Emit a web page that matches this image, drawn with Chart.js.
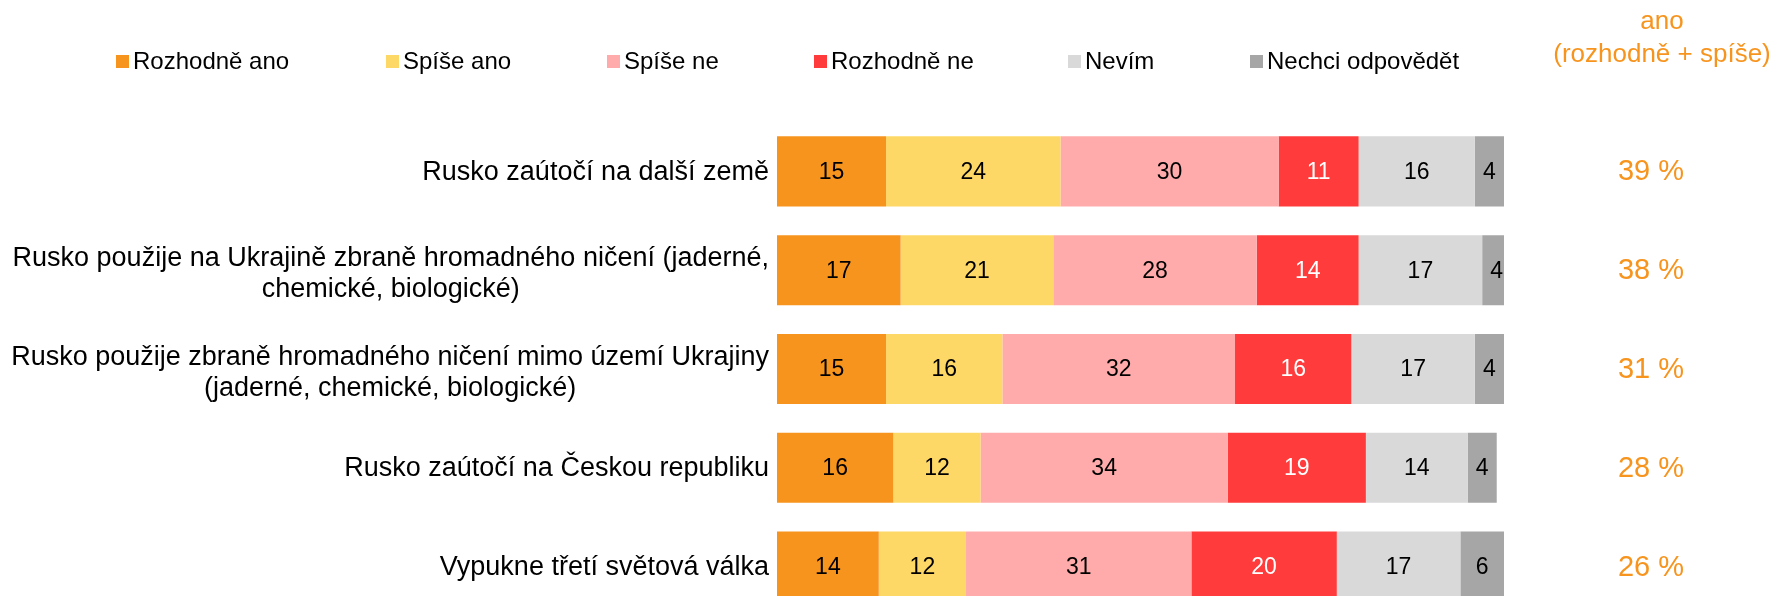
<!DOCTYPE html>
<html>
<head>
<meta charset="utf-8">
<script src="https://cdn.jsdelivr.net/npm/chart.js@4.4.1/dist/chart.umd.min.js"></script>
<style>
html, body { margin: 0; padding: 0; background: #fff; overflow: hidden; }
#wrap { width: 1777px; height: 596px; overflow: hidden; }
</style>
</head>
<body>
<div id="wrap"><canvas id="surveyChart" width="1777" height="640"></canvas></div>
<script>
const categories = [
    ['Rusko zaútočí na další země'],
    ['Rusko použije na Ukrajině zbraně hromadného ničení (jaderné,', 'chemické, biologické)'],
    ['Rusko použije zbraně hromadného ničení mimo území Ukrajiny', '(jaderné, chemické, biologické)'],
    ['Rusko zaútočí na Českou republiku'],
    ['Vypukne třetí světová válka']
];
const seriesNames = ['Rozhodně ano', 'Spíše ano', 'Spíše ne', 'Rozhodně ne', 'Nevím', 'Nechci odpovědět'];
const definitelyYes = [15, 17, 15, 16, 14];
const ratherYes = [24, 21, 16, 12, 12];
const ratherNo = [30, 28, 32, 34, 31];
const definitelyNo = [11, 14, 16, 19, 20];
const dontKnow = [16, 17, 17, 14, 17];
const noAnswer = [4, 4, 4, 4, 6];
const yesTotal = [39, 38, 31, 28, 26];
const yesHeader = ['ano', '(rozhodně + spíše)'];

const FONT = "'Liberation Sans', Arial, sans-serif";
const ORANGE = '#F7941E';
const colors = ['#F7941E', '#FED866', '#FFABAB', '#FF3B3B', '#D9D9D9', '#A6A6A6'];
const labelColors = ['#000', '#000', '#000', '#fff', '#000', '#000'];
const seriesValues = [definitelyYes, ratherYes, ratherNo, definitelyNo, dontKnow, noAnswer];

//Legend box positions (Excel style, not evenly spaced)
const legendX = [116, 386, 607, 814, 1068, 1250];

const decorPlugin = {
    id: 'surveyDecor',
    afterDatasetsDraw(chart) {
        const ctx = chart.ctx;
        const area = chart.chartArea;
        const yScale = chart.scales.y;
        ctx.save();

        //values inside segments
        ctx.font = '23px ' + FONT;
        ctx.textAlign = 'center';
        ctx.textBaseline = 'middle';
        chart.data.datasets.forEach((ds, d) => {
            chart.getDatasetMeta(d).data.forEach((bar, i) => {
                ctx.fillStyle = labelColors[d];
                ctx.fillText(String(ds.data[i]), (bar.x + bar.base) / 2, bar.y + 1);
            });
        });

        //category labels, block right-aligned, lines centered
        ctx.font = '27px ' + FONT;
        ctx.fillStyle = '#000';
        categories.forEach((lines, i) => {
            const y = yScale.getPixelForValue(i);
            const blockW = Math.max(...lines.map(l => ctx.measureText(l).width));
            const cx = area.left - 8 - blockW / 2;
            const shift = lines.length > 1 ? 4 : 1;
            lines.forEach((line, j) => {
                ctx.fillText(line, cx, y + (j - (lines.length - 1) / 2) * 31 + shift);
            });
        });

        //yes totals on the right
        ctx.font = '29px ' + FONT;
        ctx.fillStyle = ORANGE;
        yesTotal.forEach((v, i) => {
            ctx.fillText(v + ' %', 1651, yScale.getPixelForValue(i) + 1);
        });

        //header over totals
        ctx.font = '26px ' + FONT;
        ctx.fillText(yesHeader[0], 1662, 22);
        ctx.fillText(yesHeader[1], 1662, 55);

        //legend
        ctx.font = '24px ' + FONT;
        ctx.textAlign = 'left';
        chart.data.datasets.forEach((ds, d) => {
            ctx.fillStyle = ds.backgroundColor;
            ctx.fillRect(legendX[d], 55, 13, 13);
            ctx.fillStyle = '#000';
            ctx.fillText(ds.label, legendX[d] + 17, 62);
        });

        ctx.restore();
    }
};

const ctx = document.getElementById('surveyChart').getContext('2d');
new Chart(ctx, {
    type: 'bar',
    data: {
        labels: categories,
        datasets: seriesNames.map((name, d) => ({
            label: name,
            data: seriesValues[d],
            backgroundColor: colors[d],
            borderWidth: 0,
            barPercentage: 0.71,
            categoryPercentage: 1
        }))
    },
    options: {
        indexAxis: 'y',
        responsive: false,
        animation: false,
        layout: {
            padding: { top: 122, bottom: 24, left: 0, right: 273 }
        },
        plugins: {
            legend: { display: false },
            tooltip: { enabled: false }
        },
        scales: {
            x: {
                stacked: true,
                min: 0,
                max: 100,
                display: false
            },
            y: {
                stacked: true,
                grid: { display: false, drawTicks: false },
                border: { display: false },
                ticks: { display: false },
                afterFit: (scale) => { scale.width = 777; }
            }
        }
    },
    plugins: [decorPlugin]
});
</script>
</body>
</html>
